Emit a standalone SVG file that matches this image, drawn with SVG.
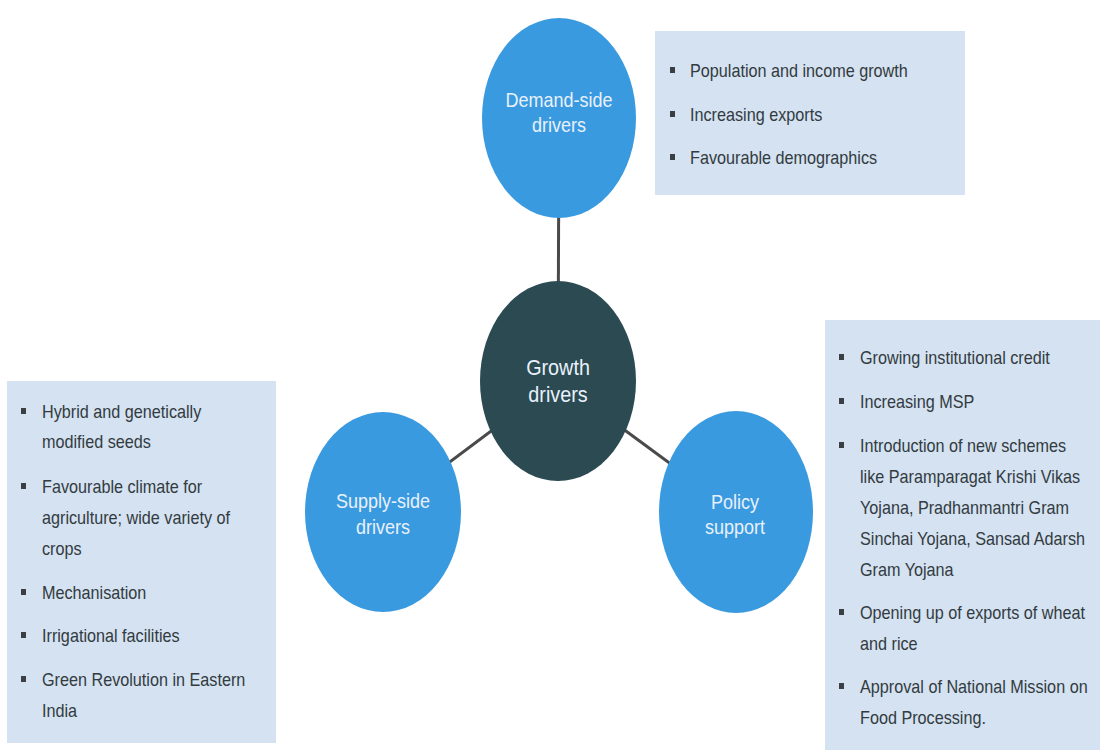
<svg xmlns="http://www.w3.org/2000/svg" width="1100" height="750" viewBox="0 0 1100 750">
  <style>
    .box { fill: #d4e2f2; }
    .blue { fill: #3a9ae0; }
    .dark { fill: #2b4a52; }
    .ctext { font-family: "Liberation Sans", Arial, sans-serif; font-size: 20px; fill: #e8f1fb; text-anchor: middle; }
    .gtext { font-family: "Liberation Sans", Arial, sans-serif; font-size: 22px; fill: #e8f1fb; text-anchor: middle; }
    .btext { font-family: "Liberation Sans", Arial, sans-serif; font-size: 18px; fill: #333b40; }
    .bul { fill: #3a3f44; }
    .conn { stroke: #4a4a4a; stroke-width: 3; fill: none; }
  </style>
  <rect width="1100" height="750" fill="#ffffff"/>

  <g id="connectors">
    <line class="conn" x1="559" y1="118" x2="558" y2="381"/>
    <line class="conn" x1="383" y1="512" x2="558" y2="381"/>
    <line class="conn" x1="736" y1="512" x2="558" y2="381"/>
  </g>

  <g id="demand-side">
    <ellipse class="blue" cx="559" cy="118" rx="77" ry="100"/>
    <g transform="translate(559,0) scale(0.9,1)">
      <text class="ctext" x="0" y="107">Demand-side</text>
      <text class="ctext" x="0" y="132">drivers</text>
    </g>
  </g>

  <g id="growth-drivers">
    <ellipse class="dark" cx="558" cy="381" rx="78" ry="100"/>
    <g transform="translate(558,0) scale(0.9,1)">
      <text class="gtext" x="0" y="375">Growth</text>
      <text class="gtext" x="0" y="402">drivers</text>
    </g>
  </g>

  <g id="supply-side">
    <ellipse class="blue" cx="383" cy="512" rx="78" ry="100"/>
    <g transform="translate(383,0) scale(0.9,1)">
      <text class="ctext" x="0" y="508">Supply-side</text>
      <text class="ctext" x="0" y="534">drivers</text>
    </g>
  </g>

  <g id="policy-support">
    <ellipse class="blue" cx="736" cy="512" rx="77" ry="101"/>
    <g transform="translate(735,0) scale(0.9,1)">
      <text class="ctext" x="0" y="509">Policy</text>
      <text class="ctext" x="0" y="534">support</text>
    </g>
  </g>

  <g id="demand-box">
    <rect class="box" x="655" y="31" width="310" height="164"/>
    <rect class="bul" x="670" y="67" width="5" height="6"/>
    <rect class="bul" x="670" y="111" width="5" height="6"/>
    <rect class="bul" x="670" y="154" width="5" height="6"/>
    <g transform="translate(690,0) scale(0.9,1)">
      <text class="btext" x="0" y="77">Population and income growth</text>
      <text class="btext" x="0" y="121">Increasing exports</text>
      <text class="btext" x="0" y="164">Favourable demographics</text>
    </g>
  </g>

  <g id="supply-box">
    <rect class="box" x="7" y="381" width="269" height="362"/>
    <rect class="bul" x="21" y="408" width="5" height="6"/>
    <rect class="bul" x="21" y="483" width="5" height="6"/>
    <rect class="bul" x="21" y="589" width="5" height="6"/>
    <rect class="bul" x="21" y="632" width="5" height="6"/>
    <rect class="bul" x="21" y="676" width="5" height="6"/>
    <g transform="translate(42,0) scale(0.9,1)">
      <text class="btext" x="0" y="418">Hybrid and genetically</text>
      <text class="btext" x="0" y="448">modified seeds</text>
      <text class="btext" x="0" y="493">Favourable climate for</text>
      <text class="btext" x="0" y="524">agriculture; wide variety of</text>
      <text class="btext" x="0" y="555">crops</text>
      <text class="btext" x="0" y="599">Mechanisation</text>
      <text class="btext" x="0" y="642">Irrigational facilities</text>
      <text class="btext" x="0" y="686">Green Revolution in Eastern</text>
      <text class="btext" x="0" y="717">India</text>
    </g>
  </g>

  <g id="policy-box">
    <rect class="box" x="825" y="320" width="280" height="440"/>
    <rect class="bul" x="839" y="354" width="5" height="6"/>
    <rect class="bul" x="839" y="398" width="5" height="6"/>
    <rect class="bul" x="839" y="442" width="5" height="6"/>
    <rect class="bul" x="839" y="609" width="5" height="6"/>
    <rect class="bul" x="839" y="683" width="5" height="6"/>
    <g transform="translate(860,0) scale(0.9,1)">
      <text class="btext" x="0" y="364">Growing institutional credit</text>
      <text class="btext" x="0" y="408">Increasing MSP</text>
      <text class="btext" x="0" y="452">Introduction of new schemes</text>
      <text class="btext" x="0" y="483">like Paramparagat Krishi Vikas</text>
      <text class="btext" x="0" y="514">Yojana, Pradhanmantri Gram</text>
      <text class="btext" x="0" y="545">Sinchai Yojana, Sansad Adarsh</text>
      <text class="btext" x="0" y="576">Gram Yojana</text>
      <text class="btext" x="0" y="619">Opening up of exports of wheat</text>
      <text class="btext" x="0" y="650">and rice</text>
      <text class="btext" x="0" y="693">Approval of National Mission on</text>
      <text class="btext" x="0" y="724">Food Processing.</text>
    </g>
  </g>
</svg>
